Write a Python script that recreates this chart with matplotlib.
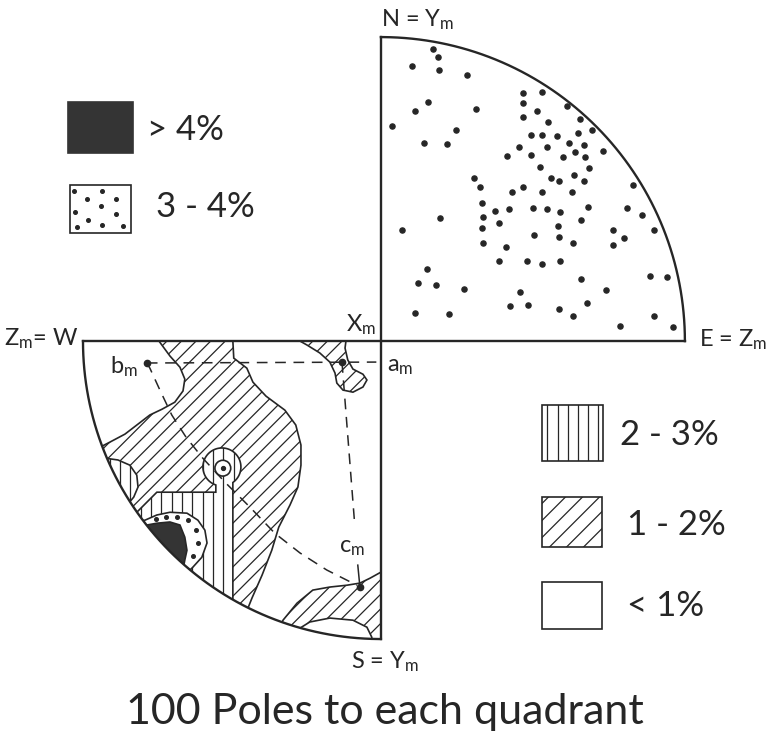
import numpy as np
import matplotlib
matplotlib.use("Agg")
import matplotlib.pyplot as plt
from matplotlib.patches import Polygon, Rectangle, Circle
from matplotlib.collections import LineCollection

plt.rcParams['font.family'] = ['Lato', 'DejaVu Sans']
plt.rcParams['mathtext.default'] = 'regular'

INK = '#262626'
DARK = '#343434'

# projection coordinates in percent of the net radius (centre of net = 0, 0)
R_UP = 100.0
R_LOW = 98.0

# 100 poles plotted in the N-E quadrant
poles_upper = [
    (17.2, 96.1), (18.9, 93.5), (10.3, 90.5), (19.2, 89.1), (28.4, 87.5),
    (46.8, 81.7), (52.9, 81.8), (46.8, 78.2), (15.4, 78.5), (11.3, 75.6),
    (31.3, 76.2), (51.2, 75.6), (61.1, 77.3), (46.6, 73.8), (55.0, 72.0),
    (65.5, 73.1), (3.5, 70.8), (24.6, 69.3), (69.5, 69.4), (64.9, 68.6),
    (49.3, 67.8), (53.1, 67.8), (57.8, 67.4), (14.3, 65.0), (21.9, 64.7),
    (45.4, 63.9), (54.7, 63.8), (61.8, 65.1), (66.7, 64.4), (41.5, 60.9),
    (49.5, 61.2), (60.0, 60.6), (64.0, 62.2), (67.2, 60.5), (73.1, 62.6),
    (52.2, 57.3), (68.4, 56.9), (30.6, 53.7), (55.8, 53.6), (58.6, 52.6),
    (63.5, 54.8), (66.7, 52.5), (82.8, 51.4), (32.6, 50.8), (46.9, 50.8),
    (43.1, 49.2), (53.0, 49.0), (62.7, 48.9), (33.3, 45.4), (37.5, 42.7),
    (42.0, 43.4), (50.0, 43.9), (54.6, 43.6), (58.9, 42.4), (68.2, 44.0),
    (81.1, 43.8), (85.8, 41.6), (33.7, 40.8), (38.9, 38.9), (19.6, 40.4),
    (7.1, 36.5), (33.1, 37.2), (58.3, 37.7), (65.9, 39.8), (50.4, 35.0),
    (58.5, 34.2), (76.3, 36.5), (89.8, 36.7), (33.7, 32.3), (41.1, 31.0),
    (63.3, 32.2), (76.2, 31.5), (80.0, 33.8), (38.7, 26.5), (48.1, 26.2),
    (53.0, 25.4), (58.9, 26.5), (15.2, 23.6), (12.1, 19.1), (18.2, 18.4),
    (27.5, 17.3), (65.9, 20.5), (88.4, 21.3), (94.1, 21.0), (45.8, 16.2),
    (73.9, 16.9), (42.4, 11.4), (48.4, 11.8), (58.5, 10.5), (67.7, 12.5),
    (63.2, 8.3), (89.8, 8.3), (11.2, 9.2), (22.3, 9.0), (78.6, 4.9),
    (96.2, 4.7),
]

# contour regions in the W-S quadrant (points outside the net are masked)
region_1to2_main = [
    (-73.0, 0.0), (-69.4, -4.9), (-66.1, -8.6), (-64.5, -12.5), (-65.1, -16.4),
    (-67.8, -20.1), (-72.0, -22.4), (-76.0, -24.3), (-79.9, -27.3), (-84.2, -30.6),
    (-89.1, -33.2), (-92.4, -34.9), (-110, -40), (-110, -112), (-46, -112),
    (-44.0, -88.5), (-42.4, -84.5), (-39.1, -77.0), (-35.9, -68.8), (-33.6, -61.2),
    (-29.9, -53.9), (-27.3, -48.0), (-26.3, -40.8), (-26.3, -34.2), (-28.0, -27.6),
    (-31.6, -22.7), (-37.8, -18.1), (-42.1, -13.5), (-44.1, -8.9), (-48.4, -5.6),
    (-48.7, 0.0),
]
region_1to2_am = [
    (-26.6, 0.0), (-24.3, -1.3), (-20.1, -3.9), (-16.8, -6.9), (-15.1, -10.5),
    (-14.5, -13.8), (-12.5, -16.1), (-9.2, -16.8), (-5.9, -15.1), (-4.6, -12.8),
    (-5.9, -10.9), (-9.2, -9.2), (-10.9, -6.2), (-11.8, -2.3), (-11.5, 0.0),
]
region_1to2_cm = [
    (-36, -112), (-33.5, -95), (-32.2, -91.8), (-27.6, -86.2), (-22.4, -81.9),
    (-16.8, -80.9), (-11.2, -80.3), (-6.9, -79.6), (-3.6, -78.0), (0.0, -76.0),
    (0.0, -112),
]
hole_cm = [
    (-27.5, -100), (-26.6, -94.4), (-23.4, -92.4), (-16.8, -91.1), (-9.2, -91.8),
    (-4.6, -94.1), (-3.0, -97.4), (-2.5, -112), (-27.5, -112),
]
region_2to3_edge = [
    (-100, -36), (-90.8, -38.5), (-86.5, -39.1), (-82.6, -40.8), (-80.3, -44.1),
    (-79.9, -48.0), (-81.3, -51.3), (-83.2, -53.6), (-100, -56),
]
region_2to3_body = [(-80.3, -56.3), (-73.7, -49.7), (-54.3, -49.7)]
stem_x = (-54.3, -48.7)
stem_top = (-52.3, -41.4, 6.25)          # centre x, centre y, radius
region_2to3_outside = [(-48.7, -112), (-100, -112), (-100, -64), (-86, -60)]
region_3to4 = [
    (-84, -60), (-77.6, -58.9), (-73.7, -57.2), (-69.4, -56.3), (-63.8, -56.6),
    (-60.2, -58.9), (-57.9, -62.2), (-57.2, -66.4), (-58.9, -71.1), (-61.8, -74.3),
    (-63.5, -76.0), (-66, -84), (-86, -70),
]
stipple_dots = [(-74.0, -58.6), (-70.7, -57.9), (-67.1, -57.9), (-63.5, -58.9),
                (-60.9, -62.2), (-60.2, -66.4), (-61.8, -70.7)]
small_max = (-52.0, -41.8, 2.6)
region_over4 = [
    (-80, -62), (-77.0, -60.5), (-73.7, -59.9), (-69.4, -59.5), (-66.1, -60.5),
    (-64.5, -64.5), (-63.8, -68.8), (-64.5, -72.0), (-66, -80), (-82, -66),
]

# fabric axes
am = (-12.8, -6.9)
bm = (-77.0, -7.2)
cm = (-6.9, -80.9)
great_circle_bc = [
    (-76.0, -8.9), (-72.7, -16.1), (-68.8, -24.3), (-64.1, -31.6), (-58.6, -38.5),
    (-51.3, -46.4), (-43.1, -54.6), (-34.9, -63.2), (-26.6, -69.7), (-17.8, -75.3),
    (-7.9, -80.3),
]

legend_labels = ['> 4%', '3 - 4%', '2 - 3%', '1 - 2%', '< 1%']
legend_stipple = [(0.07, 0.13), (0.52, 0.13), (0.76, 0.29), (0.28, 0.29), (0.51, 0.43),
                  (0.08, 0.55), (0.76, 0.61), (0.29, 0.72), (0.52, 0.82), (0.12, 0.87),
                  (0.87, 0.85)]


def add_hatch(ax, patch, kind, step, lw=0.9, z=3):
    if kind == '|':
        segs = [[(x, -140), (x, 120)] for x in np.arange(-130, 135, step)]
    else:
        segs = [[(-140, -140 + c), (140, 140 + c)] for c in np.arange(-280, 280, step)]
    lc = LineCollection(segs, colors=INK, linewidths=lw, zorder=z)
    ax.add_collection(lc)
    lc.set_clip_path(patch)


def region(ax, pts, kind=None, step=5.0, z=2, face='white', lw=1.2):
    p = Polygon(pts, closed=True, facecolor=face, edgecolor=INK, lw=lw, zorder=z)
    ax.add_patch(p)
    if kind:
        add_hatch(ax, p, kind, step, z=z + 0.1)
    return p


fig = plt.figure(figsize=(7.77, 7.5), dpi=100)
ax = fig.add_axes([0, 0, 1, 1])
ax.set_xlim(-125.3, 130.3)
ax.set_ylim(-134.5, 112.2)
ax.axis('off')

# 1-2 %
region(ax, region_1to2_main, '/', 4.8, z=2)
region(ax, region_1to2_am, '/', 4.8, z=2)
region(ax, region_1to2_cm, '/', 4.8, z=2)
region(ax, hole_cm, None, z=2.5)

# 2-3 %
region(ax, region_2to3_edge, '|', 3.4, z=3)
cx, cy, r = stem_top
a0 = np.degrees(np.arctan2(-np.sqrt(r**2 - (stem_x[0] - cx)**2), stem_x[0] - cx)) + 360
a1 = np.degrees(np.arctan2(-np.sqrt(r**2 - (stem_x[1] - cx)**2), stem_x[1] - cx))
ang = np.radians(np.linspace(a0, a1, 80))
top_arc = list(zip(cx + r * np.cos(ang), cy + r * np.sin(ang)))
body = region_2to3_body + [(stem_x[0], region_2to3_body[-1][1])] + top_arc + region_2to3_outside
region(ax, body, '|', 3.4, z=3)

# 3-4 %
region(ax, region_3to4, None, z=4)
sx, sy = zip(*stipple_dots)
ax.plot(sx, sy, 'o', ms=2.6, color=INK, zorder=4.2)
ax.add_patch(Circle(small_max[:2], small_max[2], facecolor='white', edgecolor=INK,
                    lw=1.2, zorder=4))
ax.plot(*small_max[:2], 'o', ms=2.8, color=INK, zorder=4.2)

# > 4 %
region(ax, region_over4, None, z=4.5, face=DARK)

# mask everything outside the lower quadrant
th = np.linspace(np.pi, 1.5 * np.pi, 200)
mask = (list(zip(R_LOW * np.cos(th), R_LOW * np.sin(th)))
        + [(3, -R_LOW), (3, -120), (-122, -120), (-122, 0)])
ax.add_patch(Polygon(mask, closed=True, facecolor='white', edgecolor='none', zorder=8))

# dashed great circles and axes
dash = dict(color=INK, lw=1.1, dashes=(7, 5), zorder=6)
ax.plot([bm[0], -1.5], [bm[1], am[1]], **dash)
ax.plot([am[0], -8.6], [am[1], -60.5], **dash)
gx, gy = zip(*([bm] + great_circle_bc))
ax.plot(gx, gy, **dash)
ax.plot([-7.6, cm[0]], [-73.7, cm[1]], color=INK, lw=1.1, zorder=6)
for p in (am, bm, cm):
    ax.plot(*p, 'o', ms=4.5, color=INK, zorder=7)

# net outlines
t_up = np.linspace(0, 0.5 * np.pi, 200)
ax.plot(R_UP * np.cos(t_up), R_UP * np.sin(t_up), color=INK, lw=1.7, zorder=9)
ax.plot(R_LOW * np.cos(th), R_LOW * np.sin(th), color=INK, lw=1.7, zorder=9)
ax.plot([-R_LOW, R_UP], [0, 0], color=INK, lw=1.7, zorder=9)
ax.plot([0, 0], [-R_LOW, R_UP], color=INK, lw=1.7, zorder=9)

# poles
px, py = zip(*poles_upper)
ax.plot(px, py, 'o', ms=3.7, color=INK, zorder=9)

# labels
lab = dict(color=INK, fontsize=17, ha='center', va='center', zorder=10)
ax.text(12.2, 105.6, 'N = Y$_m$', **lab)
ax.text(115.8, 0.3, 'E = Z$_m$', **lab)
ax.text(-111.8, 0.8, 'Z$_m$= W', **lab)
ax.text(1.3, -105.3, 'S = Y$_m$', **lab)
ax.text(-6.5, 5.3, 'X$_m$', **lab)
ax.text(6.5, -8.5, 'a$_m$', **lab)
ax.text(-84.5, -8.5, 'b$_m$', **lab)
ax.text(-9.5, -68.0, 'c$_m$', **lab)
ax.text(1.3, -122.0, '100 Poles to each quadrant', color=INK, fontsize=31,
        ha='center', va='center', zorder=10)

# legend
boxes = [(-103.0, 61.8, 21.4, 16.8), (-102.3, 35.5, 20.1, 15.8),
         (53.0, -39.5, 20.0, 18.4), (53.0, -67.8, 19.7, 16.5), (53.0, -94.7, 19.7, 15.4)]
text_at = [(-77.0, 69.4), (-74.0, 44.0), (78.6, -31.0), (80.9, -60.5), (80.9, -87.0)]
for i, (lbl, (bx, by, bw, bh), (tx, ty)) in enumerate(zip(legend_labels, boxes, text_at)):
    face = DARK if i == 0 else 'white'
    rect = Rectangle((bx, by), bw, bh, facecolor=face, edgecolor=INK if i else DARK,
                     lw=1.2, zorder=5)
    ax.add_patch(rect)
    if i == 1:
        for fx, fy in legend_stipple:
            ax.plot(bx + fx * bw, by + bh - fy * bh, 'o', ms=2.6, color=INK, zorder=6)
    elif i == 2:
        add_hatch(ax, rect, '|', 3.3, z=5.1)
    elif i == 3:
        add_hatch(ax, rect, '/', 5.6, z=5.1)
    ax.text(tx, ty, lbl, color=INK, fontsize=25, ha='left', va='center', zorder=10)

fig.savefig('out.png', dpi=100)
